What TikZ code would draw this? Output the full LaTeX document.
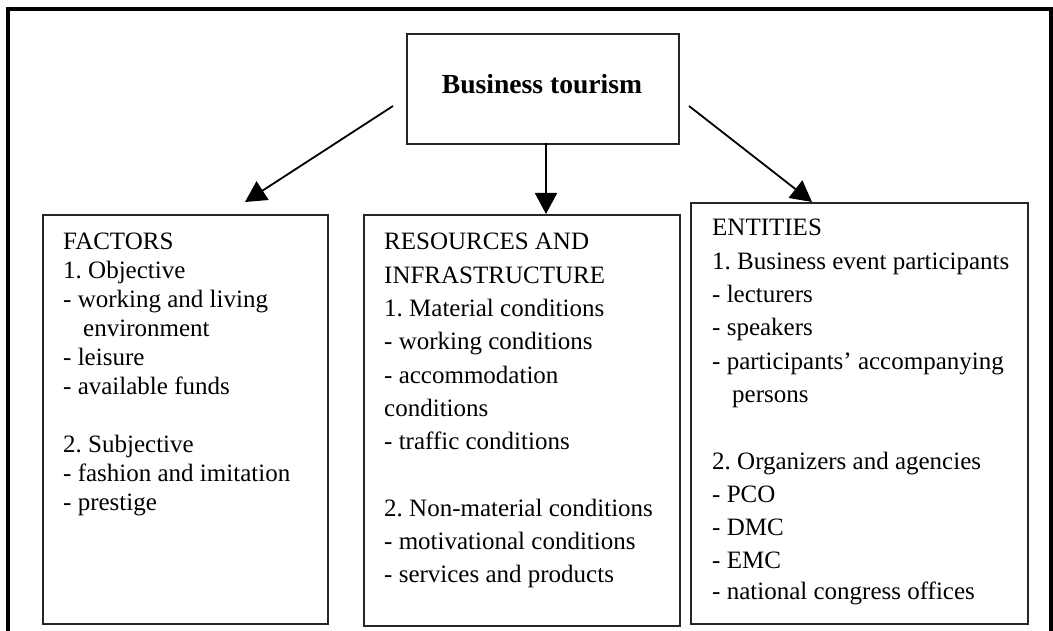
\documentclass[tikz,border=0pt]{standalone}
\usepackage{fontspec}
\setmainfont{Liberation Serif}
\frenchspacing
\usetikzlibrary{arrows.meta}
\tikzset{
  frame/.style={line width=4pt, black},
  box/.style={draw=black!85, line width=1.8pt, rectangle, inner sep=0pt, anchor=north west},
  boxtext/.style={anchor=base west, inner sep=0pt, font=\fontsize{25}{33.3}\selectfont},
  conn/.style={line width=1.8pt, -{Triangle[length=21pt, width=22pt]}},
}
\begin{document}
\begin{tikzpicture}[x=1pt, y=-1pt]
\useasboundingbox (0,0) rectangle (1053,631);
% outer frame (open at the bottom, continues past the picture)
\draw[frame] (8,650) -- (8,9.5) -- (1050.5,9.5) -- (1050.5,650);

% boxes
\node[box, minimum width=272pt, minimum height=110pt] (bt) at (406,33) {};
\node[font=\fontsize{27.6}{30}\selectfont\bfseries, anchor=base, inner sep=0pt] (btt) at (542,94) {Business tourism};

\node[box, minimum width=285pt, minimum height=409pt] (fac) at (42,214) {};
\node[box, minimum width=316pt, minimum height=411pt] (res) at (363,214) {};
\node[box, minimum width=337pt, minimum height=421pt] (ent) at (690,202) {};

% texts
\node[boxtext, font=\fontsize{25}{29}\selectfont] (factxt) at (63,249.3) {\parbox[t]{260pt}{\raggedright
FACTORS\\
1. Objective\\
- working and living\\
\hspace*{20pt}environment\\
- leisure\\
- available funds\\[29pt]
2. Subjective\\
- fashion and imitation\\
- prestige}};

\node[boxtext] (restxt) at (384,250) {\parbox[t]{295pt}{\raggedright
RESOURCES AND\\
INFRASTRUCTURE\\
1. Material conditions\\
- working conditions\\
- accommodation\\
conditions\\
- traffic conditions\\[33.3pt]
2. Non-material conditions\\
- motivational conditions\\
- services and products}};

\node[boxtext] (enttxt) at (712,236) {\parbox[t]{310pt}{\raggedright
ENTITIES\\
1. Business event participants\\
- lecturers\\
- speakers\\
- participants' accompanying\\
\hspace*{20pt}persons\\[33.3pt]
2. Organizers and agencies\\
- PCO\\
- DMC\\
- EMC\\[-3pt]
- national congress offices}};

% connectors
\coordinate (la) at (393,106);
\coordinate (lt) at (245,202);
\coordinate (ra) at (689,106);
\coordinate (rt) at (812,202);
\coordinate (dtop) at (546,143);
\coordinate (dbot) at (546,214);
\draw[conn] (la) -- (lt);
\draw[conn] (dtop) -- (dbot);
\draw[conn] (ra) -- (rt);
\end{tikzpicture}
\end{document}
